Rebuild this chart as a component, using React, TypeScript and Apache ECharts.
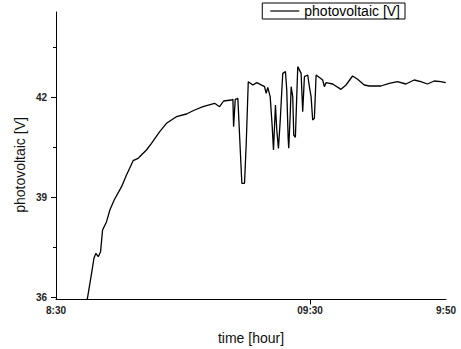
import React, { useEffect, useRef } from "react";
import * as echarts from "echarts";

// minutes after the start of the axis
const times = [4.92, 5.6, 5.97, 6.28, 6.65, 7.02, 7.33, 7.96, 8.48, 9.16, 10.32, 11.1, 12.14, 12.93, 14.24, 15.03, 16.33, 17.39, 18.96, 20.53, 21.83, 23.14, 24.97, 25.76, 26.39, 27.6, 27.85, 27.96, 28.22, 28.63, 29.06, 29.26, 29.68, 29.95, 30.27, 30.99, 31.62, 32.83, 33.09, 33.34, 33.72, 34.04, 34.24, 34.55, 34.76, 35.02, 35.29, 35.7, 36.12, 36.33, 36.55, 36.64, 36.86, 37.02, 37.27, 37.43, 37.69, 37.9, 38.06, 38.59, 38.84, 39.11, 39.63, 39.89, 40.16, 40.41, 40.68, 40.95, 41.99, 42.25, 42.51, 43.55, 44.87, 45.66, 46.69, 47.48, 48.53, 49.32, 51.15, 52.46, 53.76, 55.08, 56.39, 57.44, 58.48, 59.53, 60.58, 61.36];
const volts = [35.93, 36.71, 37.16, 37.31, 37.21, 37.36, 38.01, 38.26, 38.61, 38.91, 39.31, 39.66, 40.09, 40.16, 40.41, 40.61, 40.96, 41.21, 41.41, 41.49, 41.61, 41.71, 41.81, 41.71, 41.88, 41.91, 41.93, 41.11, 41.93, 41.96, 40.21, 39.41, 39.41, 40.61, 42.46, 42.36, 42.43, 42.31, 42.11, 42.29, 42.01, 41.11, 40.41, 41.76, 41.01, 40.46, 41.26, 42.71, 42.76, 42.21, 40.76, 40.46, 41.41, 42.31, 42.01, 40.86, 40.79, 42.01, 42.91, 42.71, 41.56, 42.61, 42.66, 42.31, 42.01, 41.31, 41.36, 42.66, 42.51, 42.31, 42.43, 42.39, 42.23, 42.36, 42.63, 42.53, 42.36, 42.33, 42.33, 42.41, 42.46, 42.39, 42.51, 42.46, 42.39, 42.48, 42.46, 42.43];

const xTickValues = [0, 40, 61.4];
const xTickLabels = ["8:30", "09:30", "9:50"];
const yMajorTicks = [36, 39, 42];
const yMinorTicks = [37.5, 40.5, 43.5];
const seriesName = "photovoltaic [V]";

const FONT = "'Liberation Sans', Arial, sans-serif";

export default function App() {
  const ref = useRef<HTMLDivElement>(null);
  useEffect(() => {
    if (!ref.current) return;
    const chart = echarts.init(ref.current, null, { renderer: "svg" });
    const data = times.map((t, i) => [t, volts[i]]);
    chart.setOption({
      animation: false,
      backgroundColor: "#fff",
      grid: { left: 56, right: 15, top: 12, bottom: 49.5, containLabel: false },
      legend: {
        data: [{ name: seriesName, icon: "rect" }],
        right: 56,
        top: 3,
        orient: "horizontal",
        borderColor: "#000",
        borderWidth: 1,
        borderRadius: 0,
        padding: [1, 5, 1, 8],
        itemWidth: 29,
        itemHeight: 1.2,
        itemGap: 0,
        textStyle: { fontSize: 14, color: "#000", fontFamily: FONT },
      },
      xAxis: {
        type: "value",
        min: 0,
        max: 61.4,
        axisLine: { show: true, lineStyle: { color: "#000", width: 1 } },
        axisTick: { show: true, customValues: [40], length: 5, inside: false, lineStyle: { color: "#000" } },
        axisLabel: {
          customValues: xTickValues,
          margin: 6,
          fontSize: 10,
          fontWeight: "bold",
          color: "#222",
          fontFamily: FONT,
          formatter: (v: number) => {
            const i = xTickValues.findIndex((x) => Math.abs(x - v) < 1e-6);
            return i >= 0 ? xTickLabels[i] : "";
          },
        },
        splitLine: { show: false },
      },
      yAxis: [
        {
          type: "value",
          min: 35.925,
          max: 44.55,
          axisLine: { show: true, lineStyle: { color: "#000", width: 1 } },
          axisTick: { show: true, customValues: yMajorTicks, length: 5, lineStyle: { color: "#000" } },
          axisLabel: {
            customValues: yMajorTicks,
            margin: 9,
            fontSize: 10,
            fontWeight: "bold",
            color: "#222",
            fontFamily: FONT,
          },
          splitLine: { show: false },
        },
        {
          type: "value",
          position: "left",
          offset: 0,
          min: 35.925,
          max: 44.55,
          axisLine: { show: true, lineStyle: { color: "rgba(0,0,0,0)" } },
          axisTick: { show: true, customValues: yMinorTicks, length: 3, lineStyle: { color: "#000" } },
          axisLabel: { show: true, customValues: yMinorTicks, formatter: () => "" },
          splitLine: { show: false },
        },
      ],
      graphic: [
        {
          type: "text",
          x: 20,
          y: 165,
          rotation: Math.PI / 2,
          style: {
            text: "photovoltaic [V]",
            fontSize: 14,
            fontFamily: FONT,
            fill: "#111",
            textAlign: "center",
            textVerticalAlign: "middle",
          },
        },
        {
          type: "text",
          x: 251,
          y: 338,
          style: {
            text: "time [hour]",
            fontSize: 14,
            fontFamily: FONT,
            fill: "#111",
            textAlign: "center",
            textVerticalAlign: "middle",
          },
        },
      ],
      series: [
        {
          name: seriesName,
          type: "line",
          data,
          showSymbol: false,
          symbol: "none",
          yAxisIndex: 0,
          lineStyle: { color: "#000", width: 1.3 },
          itemStyle: { color: "#000" },
        },
      ],
    });
    return () => chart.dispose();
  }, []);
  return <div ref={ref} style={{ width: 461, height: 349, position: "absolute", left: 0, top: 0 }} />;
}
